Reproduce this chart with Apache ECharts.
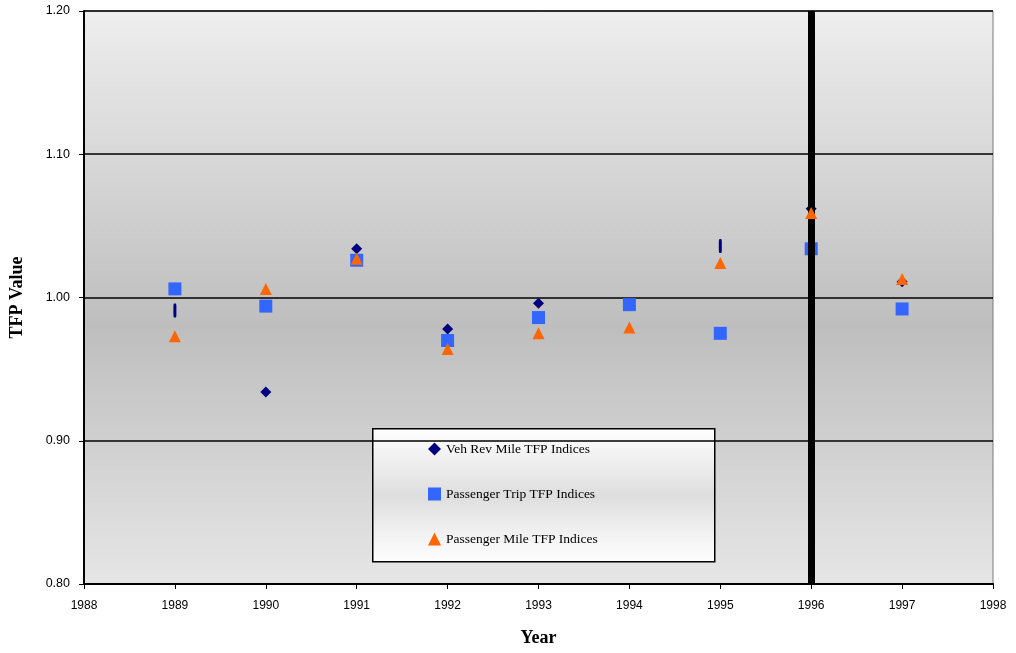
<!DOCTYPE html>
<html>
<head>
<meta charset="utf-8">
<script src="https://cdn.jsdelivr.net/npm/echarts@6/dist/echarts.min.js"></script>
<style>html,body{margin:0;padding:0;background:#fff}#c{width:1016px;height:653px}</style>
</head>
<body>
<div id="c"></div>
<script>
const years = [1989, 1990, 1991, 1992, 1993, 1994, 1995, 1996, 1997];
const vehRevMile = [0.991, 0.934, 1.034, 0.978, 0.996, 0.996, 1.036, 1.062, 1.011];
const passengerTrip = [1.006, 0.994, 1.026, 0.970, 0.986, 0.995, 0.975, 1.034, 0.992];
const passengerMile = [0.973, 1.006, 1.027, 0.964, 0.975, 0.979, 1.024, 1.059, 1.013];
const yTicks = [0.80, 0.90, 1.00, 1.10, 1.20];
const markerYear = 1996;

const narrowYears = [1989, 1995];
const pairs = arr => years.map((y, i) => [y, arr[i]]);

const chart = echarts.init(document.getElementById('c'));
chart.setOption({
  animation: false,
  grid: {
    left: 84, right: 23, top: 11, bottom: 69,
    show: true,
    borderColor: '#7a7a7a', borderWidth: 1,
    backgroundColor: new echarts.graphic.LinearGradient(0, 0, 0, 1, [
      {offset: 0, color: '#eeeeee'},
      {offset: 0.55, color: '#bebebe'},
      {offset: 1, color: '#e6e6e6'}
    ])
  },
  xAxis: {
    type: 'value', min: 1988, max: 1998, interval: 1,
    name: 'Year', nameLocation: 'middle', nameGap: 45,
    nameTextStyle: {fontFamily: 'Liberation Serif', fontWeight: 'bold', fontSize: 18, color: '#000'},
    axisLine: {show: true, onZero: false, lineStyle: {color: '#000', width: 2}},
    axisTick: {show: true, length: 5, lineStyle: {color: '#000'}},
    axisLabel: {fontFamily: 'Liberation Sans', fontSize: 12, color: '#000', margin: 16, formatter: v => String(v)},
    splitLine: {show: false}
  },
  yAxis: {
    type: 'value', min: 0.8, max: 1.2, interval: 0.1,
    name: 'TFP Value', nameLocation: 'middle', nameGap: 58, nameRotate: 90,
    nameTextStyle: {fontFamily: 'Liberation Serif', fontWeight: 'bold', fontSize: 18, color: '#000'},
    axisLine: {show: true, lineStyle: {color: '#000', width: 2}},
    axisTick: {show: true, length: 5, lineStyle: {color: '#000'}},
    axisLabel: {fontFamily: 'Liberation Sans', fontSize: 12.5, color: '#000', margin: 14,
      formatter: v => { const t = yTicks.find(x => Math.abs(x - v) < 1e-6); return (t !== undefined ? t : v).toFixed(2); }},
    splitLine: {show: true, lineStyle: {color: '#000', width: 1.5}}
  },
  legend: {
    orient: 'vertical', left: 423, top: 437, itemGap: 31,
    itemWidth: 13, itemHeight: 13, itemStyle: {opacity: 1},
    textStyle: {fontFamily: 'Liberation Serif', fontSize: 13.5, color: '#000'},
    data: [
      {name: 'Veh Rev Mile TFP Indices', icon: 'diamond'},
      {name: 'Passenger Trip TFP Indices', icon: 'rect'},
      {name: 'Passenger Mile TFP Indices', icon: 'triangle'}
    ]
  },
  graphic: [{
    type: 'rect', left: 372, top: 428, z: 0, zlevel: 0,
    shape: {width: 342, height: 133},
    style: {
      fill: new echarts.graphic.LinearGradient(0, 0, 0, 1, [
        {offset: 0, color: '#ffffff'}, {offset: 0.5, color: '#dedede'}, {offset: 1, color: '#ffffff'}
      ]),
      stroke: '#000', lineWidth: 1.5
    }
  }],
  series: [
    {
      name: 'Veh Rev Mile TFP Indices', type: 'scatter',
      symbol: (v) => narrowYears.includes(v[0]) ? 'roundRect' : 'diamond',
      symbolSize: (v) => narrowYears.includes(v[0]) ? [3, 14] : [11, 11],
      itemStyle: {color: '#000080', opacity: 1}, z: 3,
      data: pairs(vehRevMile),
      markLine: {
        silent: true, symbol: 'none', label: {show: false},
        lineStyle: {color: '#000', width: 7, type: 'solid', opacity: 1},
        data: [{xAxis: markerYear}]
      }
    },
    {
      name: 'Passenger Trip TFP Indices', type: 'scatter', symbol: 'rect', symbolSize: 13,
      itemStyle: {color: '#3366ff', opacity: 1}, z: 4,
      data: pairs(passengerTrip)
    },
    {
      name: 'Passenger Mile TFP Indices', type: 'scatter', symbol: 'triangle', symbolSize: 12,
      itemStyle: {color: '#ff6600', opacity: 1}, z: 5,
      data: pairs(passengerMile)
    }
  ]
});
</script>
</body>
</html>
